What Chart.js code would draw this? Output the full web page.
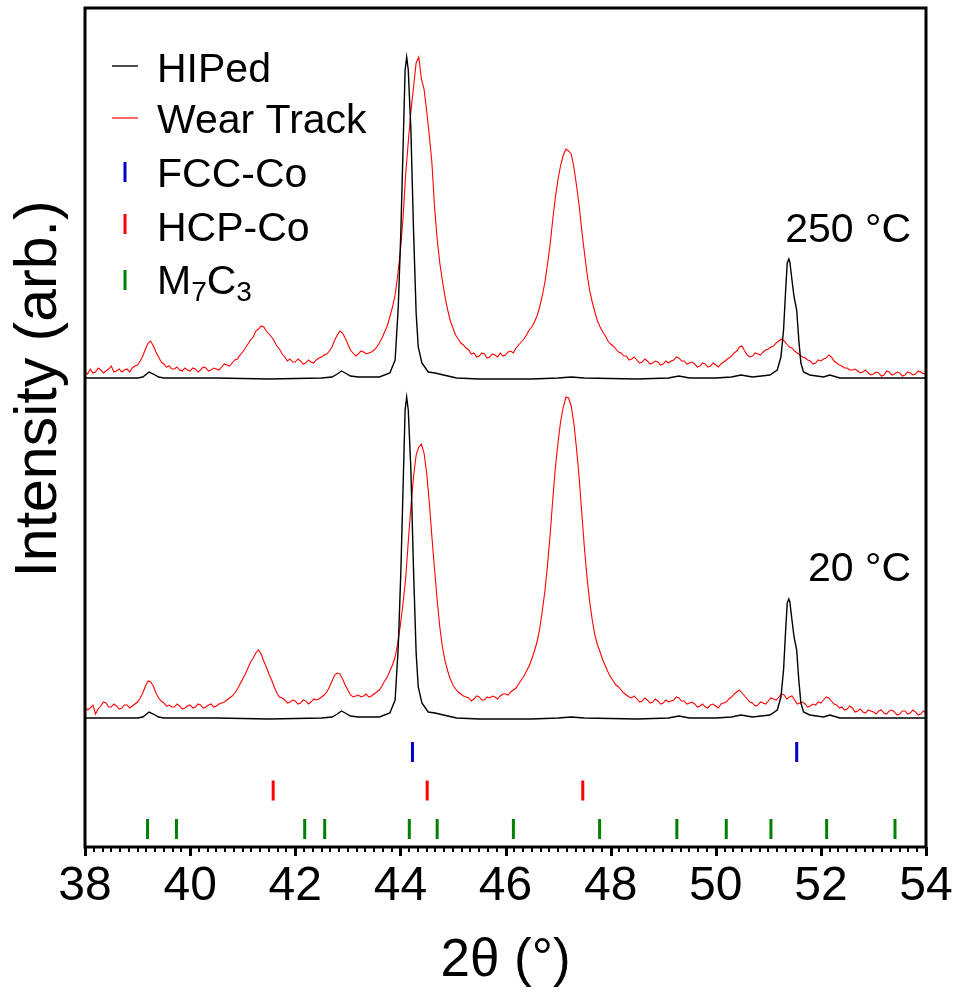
<!DOCTYPE html>
<html><head><meta charset="utf-8">
<script src="https://cdn.jsdelivr.net/npm/chart.js@4.4.0/dist/chart.umd.min.js"></script>
<style>html,body{margin:0;padding:0;background:#fff;}</style>
</head><body>
<canvas id="c" width="958" height="994"></canvas>
<script>
// ---------------- DATA ----------------
const xTickLabels = [38, 40, 42, 44, 46, 48, 50, 52, 54];

// 2θ sampling of the wear-track scans
const wearX = [
38.00,38.05,38.10,38.15,38.20,38.25,38.30,38.35,38.40,38.45,38.50,38.55,38.60,38.65,38.70,38.75,38.80,38.85,38.90,38.95,
39.00,39.05,39.10,39.15,39.20,39.25,39.30,39.35,39.40,39.45,39.50,39.55,39.60,39.65,39.70,39.75,39.80,39.85,39.90,39.95,
40.00,40.05,40.10,40.15,40.20,40.25,40.30,40.35,40.40,40.45,40.50,40.55,40.60,40.65,40.70,40.75,40.80,40.85,40.90,40.95,
41.00,41.05,41.10,41.15,41.20,41.25,41.30,41.35,41.40,41.45,41.50,41.55,41.60,41.65,41.70,41.75,41.80,41.85,41.90,41.95,
42.00,42.05,42.10,42.15,42.20,42.25,42.30,42.35,42.40,42.45,42.50,42.55,42.60,42.65,42.70,42.75,42.80,42.85,42.90,42.95,
43.00,43.05,43.10,43.15,43.20,43.25,43.30,43.35,43.40,43.45,43.50,43.55,43.60,43.65,43.70,43.75,43.80,43.85,43.90,43.95,
44.00,44.05,44.10,44.15,44.20,44.25,44.30,44.35,44.40,44.45,44.50,44.55,44.60,44.65,44.70,44.75,44.80,44.85,44.90,44.95,
45.00,45.05,45.10,45.15,45.20,45.25,45.30,45.35,45.40,45.45,45.50,45.55,45.60,45.65,45.70,45.75,45.80,45.85,45.90,45.95,
46.00,46.05,46.10,46.15,46.20,46.25,46.30,46.35,46.40,46.45,46.50,46.55,46.60,46.65,46.70,46.75,46.80,46.85,46.90,46.95,
47.00,47.05,47.10,47.15,47.20,47.25,47.30,47.35,47.40,47.45,47.50,47.55,47.60,47.65,47.70,47.75,47.80,47.85,47.90,47.95,
48.00,48.05,48.10,48.15,48.20,48.25,48.30,48.35,48.40,48.45,48.50,48.55,48.60,48.65,48.70,48.75,48.80,48.85,48.90,48.95,
49.00,49.05,49.10,49.15,49.20,49.25,49.30,49.35,49.40,49.45,49.50,49.55,49.60,49.65,49.70,49.75,49.80,49.85,49.90,49.95,
50.00,50.05,50.10,50.15,50.20,50.25,50.30,50.35,50.40,50.45,50.50,50.55,50.60,50.65,50.70,50.75,50.80,50.85,50.90,50.95,
51.00,51.05,51.10,51.15,51.20,51.25,51.30,51.35,51.40,51.45,51.50,51.55,51.60,51.65,51.70,51.75,51.80,51.85,51.90,51.95,
52.00,52.05,52.10,52.15,52.20,52.25,52.30,52.35,52.40,52.45,52.50,52.55,52.60,52.65,52.70,52.75,52.80,52.85,52.90,52.95,
53.00,53.05,53.10,53.15,53.20,53.25,53.30,53.35,53.40,53.45,53.50,53.55,53.60,53.65,53.70,53.75,53.80,53.85,53.90,53.95,
54.00];

// Wear track, 250 °C (stacked, arbitrary units)
const wear250 = [
476,473,478,474,475,479,477,474,476,478,481,475,476,478,475,477,478,475,479,481,
482,486,491,498,504,506,501,495,490,485,483,480,481,478,478,480,477,476,479,477,
476,479,478,475,477,480,479,476,477,479,478,477,480,483,482,481,484,487,488,492,
495,499,503,507,510,516,518,521,520,516,513,510,506,501,498,493,490,486,488,485,
485,488,486,483,484,487,485,484,487,489,490,492,493,496,500,507,512,516,514,509,
503,497,494,491,493,496,495,493,494,495,497,500,504,509,515,521,530,540,552,572,
596,628,672,705,735,760,784,790,768,758,736,712,684,640,608,584,566,550,537,526,
519,512,508,504,502,499,497,493,494,490,491,494,493,489,490,493,492,490,494,491,
492,495,496,494,499,502,505,508,512,517,520,525,531,540,551,565,583,603,628,650,
668,682,692,698,696,693,680,662,642,617,595,574,557,545,535,526,520,515,511,506,
503,501,498,495,494,491,491,487,488,490,487,484,485,488,486,483,484,486,485,482,
483,486,484,486,487,490,489,486,486,483,484,485,483,480,481,484,483,480,481,484,
482,480,483,485,487,489,491,494,496,500,501,496,492,490,491,494,493,492,495,497,
498,500,501,504,506,508,506,503,500,499,496,494,492,490,489,487,486,483,484,487,
486,488,489,492,490,486,484,482,481,479,479,477,477,478,476,474,475,477,474,472,
473,475,474,471,472,476,475,472,473,475,474,471,472,475,474,472,473,476,475,473,
474];

// Wear track, 20 °C
const wear20 = [
140,137,139,142,133,138,141,145,144,140,140,143,141,138,139,142,142,139,141,143,
145,149,154,161,166,165,161,154,149,146,144,141,142,140,140,143,141,138,139,141,
142,139,140,143,142,139,140,142,143,140,141,143,144,145,147,149,151,154,158,163,
168,173,179,185,189,194,197,193,186,180,173,167,160,154,150,149,147,144,145,147,
146,143,144,147,146,143,145,148,147,148,150,152,155,160,166,172,174,173,168,162,
157,152,150,151,152,150,151,153,150,151,153,155,157,161,166,170,176,182,190,204,
222,243,268,305,340,370,392,400,403,394,374,345,310,278,247,220,200,186,176,168,
162,158,155,153,151,150,149,146,148,151,150,147,147,150,149,151,150,148,151,153,
153,152,155,157,159,163,167,171,176,181,188,196,205,218,236,256,282,313,348,380,
405,426,440,450,449,441,424,399,370,335,300,270,246,227,212,202,195,187,181,175,
170,166,162,160,157,154,152,150,149,151,148,145,146,149,147,144,145,148,146,143,
144,147,145,146,147,150,149,146,146,143,144,145,143,140,141,143,140,139,142,143,
141,139,143,144,145,148,150,153,155,157,154,151,148,145,144,141,142,145,144,143,
146,149,148,147,150,153,152,148,150,151,147,143,144,145,143,140,141,143,142,145,
144,147,150,149,146,143,142,139,140,137,138,141,139,135,136,138,135,134,137,136,
135,133,136,137,134,133,136,137,135,132,133,136,136,133,134,137,135,132,133,136,
134];

// HIPed reference scan (same pattern in both panels), relative to its baseline
const hipedX = [38.0,39.0,39.1,39.22,39.3,39.4,39.5,40.5,41.5,42.5,42.7,42.8,42.88,42.95,43.05,43.2,43.6,43.8,43.9,43.96,
44.01,44.06,44.09,44.12,44.15,44.2,44.25,44.3,44.34,44.41,44.53,44.66,44.82,45.07,45.5,46.5,47.0,47.25,47.5,48.5,
49.1,49.3,49.5,50.0,50.3,50.48,50.7,51.03,51.17,51.24,51.29,51.33,51.36,51.39,51.41,51.45,51.49,51.54,51.58,51.62,
51.67,51.79,52.05,52.17,52.36,53.0,54.0];
const hipedY = [0,0,1,6,4,1,0,0,-1,0,1,4,7,5,2,1,1,5,18,71,
148,248,308,321,308,248,148,65,31,15,6,5,3,0,-1,-1,0,1,0,-1,
0,2,0,0,1,3,1,3,8,21,48,88,115,119,116,98,81,68,38,15,
6,3,1,3,0,0,0];
const hipedOffset250 = 469;
const hipedOffset20 = 129;

// Reference peak positions (2θ)
const fccCo = [44.23, 51.54];
const hcpCo = [41.58, 44.51, 47.47];
const m7c3 = [39.19, 39.74, 42.18, 42.56, 44.17, 44.70, 46.15, 47.79, 49.26, 50.20, 51.05, 52.11, 53.41];

const seriesLabels = ['HIPed', 'Wear Track', 'FCC-Co', 'HCP-Co', 'M7C3'];
const panelLabels = ['250 °C', '20 °C'];

// --------------- BUILD ---------------
const FONT = '"Liberation Sans", Arial, Helvetica, sans-serif';
const pts = (xs, ys, off) => xs.map((x, i) => ({x: x, y: ys[i] + (off || 0)}));
const ticksRow = (xs, level) => xs.map(x => ({x: x, y: level}));

const lineDs = (label, data, color, w) => ({
  label, data, showLine: true, borderColor: color, backgroundColor: color,
  borderWidth: w, pointRadius: 0, pointHoverRadius: 0, tension: 0, fill: false
});
const tickDs = (label, data, color) => ({
  label, data, showLine: false, pointStyle: 'line', pointRotation: 90,
  pointRadius: 10, pointHoverRadius: 10, pointBorderWidth: 3, pointBorderColor: color,
  borderColor: color, backgroundColor: color
});

const datasets = [
  lineDs(seriesLabels[0], pts(hipedX, hipedY, hipedOffset250), '#000000', 1.4),
  lineDs(seriesLabels[0], pts(hipedX, hipedY, hipedOffset20), '#000000', 1.4),
  lineDs(seriesLabels[1], pts(wearX, wear250), '#ff0000', 1.1),
  lineDs(seriesLabels[1], pts(wearX, wear20), '#ff0000', 1.1),
  tickDs(seriesLabels[2], ticksRow(fccCo, 95), '#0000c8'),
  tickDs(seriesLabels[3], ticksRow(hcpCo, 56.5), '#ff0000'),
  tickDs(seriesLabels[4], ticksRow(m7c3, 18), '#008000')
];

const decor = {
  id: 'decor',
  afterDraw(chart) {
    const {ctx, chartArea: a, scales: {x}} = chart;
    ctx.save();
    // minor & major ticks (outward)
    ctx.strokeStyle = '#000';
    ctx.lineWidth = 2;
    ctx.beginPath();
    const minorStep = 1 / 6;
    for (let k = 0; k * minorStep <= 16 + 1e-9; k++) {
      const v = 38 + k * minorStep;
      const px = Math.round(x.getPixelForValue(v));
      ctx.moveTo(px, a.bottom); ctx.lineTo(px, a.bottom + 5);
    }
    ctx.stroke();
    ctx.lineWidth = 3;
    ctx.beginPath();
    xTickLabels.forEach(v => {
      const px = Math.round(x.getPixelForValue(v)) + 0.5;
      ctx.moveTo(px, a.bottom); ctx.lineTo(px, a.bottom + 9);
    });
    ctx.stroke();
    // frame
    ctx.lineWidth = 3;
    ctx.strokeRect(a.left, a.top, a.right - a.left, a.bottom - a.top);

    // legend
    ctx.fillStyle = '#000';
    ctx.textAlign = 'left';
    ctx.textBaseline = 'alphabetic';
    const LF = '41px ' + FONT;
    ctx.font = LF;
    const lx = 157;
    ctx.strokeStyle = '#000'; ctx.lineWidth = 1.4;
    ctx.beginPath(); ctx.moveTo(112, 66); ctx.lineTo(138, 66); ctx.stroke();
    ctx.fillText(seriesLabels[0], lx, 82);
    ctx.strokeStyle = '#ff0000'; ctx.lineWidth = 1.2;
    ctx.beginPath(); ctx.moveTo(112, 118); ctx.lineTo(138, 118); ctx.stroke();
    ctx.fillText(seriesLabels[1], lx, 133);
    const mark = (cy, color) => {
      ctx.strokeStyle = color; ctx.lineWidth = 3;
      ctx.beginPath(); ctx.moveTo(125, cy - 10); ctx.lineTo(125, cy + 10); ctx.stroke();
    };
    mark(172, '#0000c8'); ctx.fillText(seriesLabels[2], lx, 187);
    mark(224, '#ff0000'); ctx.fillText(seriesLabels[3], lx, 241);
    mark(280, '#008000');
    let cx = lx;
    ctx.font = LF; ctx.fillText('M', cx, 294); cx += ctx.measureText('M').width;
    ctx.font = '28px ' + FONT; ctx.fillText('7', cx, 301); cx += ctx.measureText('7').width;
    ctx.font = LF; ctx.fillText('C', cx, 294); cx += ctx.measureText('C').width;
    ctx.font = '28px ' + FONT; ctx.fillText('3', cx, 301);

    // panel labels
    ctx.font = LF;
    ctx.textAlign = 'right';
    ctx.fillText(panelLabels[0], 911, 242);
    ctx.fillText(panelLabels[1], 911, 581);

    // y title
    ctx.save();
    ctx.translate(56, 389);
    ctx.rotate(-Math.PI / 2);
    ctx.textAlign = 'center';
    ctx.textBaseline = 'alphabetic';
    ctx.font = '59px ' + FONT;
    ctx.fillText('Intensity (arb.)', 0, 0);
    ctx.restore();
    ctx.restore();
  }
};

new Chart(document.getElementById('c'), {
  type: 'scatter',
  data: { datasets },
  options: {
    responsive: false,
    animation: false,
    devicePixelRatio: 1,
    layout: { autoPadding: false, padding: { left: 85, right: 32, top: 8, bottom: 0 } },
    plugins: { legend: { display: false }, tooltip: { enabled: false } },
    events: [],
    scales: {
      x: {
        type: 'linear', min: 38, max: 54,
        afterBuildTicks: s => { s.ticks = xTickLabels.map(v => ({value: v})); },
        afterFit: s => { s.height = 147; s.paddingLeft = 0; s.paddingRight = 0; s.paddingTop = 0; s.paddingBottom = 0; },
        ticks: { color: '#000', font: { family: FONT, size: 48 }, padding: 11, maxRotation: 0, autoSkip: false },
        grid: { display: false, drawTicks: false },
        border: { display: false },
        title: { display: true, text: '2θ (°)', color: '#000', font: { family: FONT, size: 53 }, padding: { top: 0, bottom: 1 } }
      },
      y: { display: false, min: 0, max: 839 }
    }
  },
  plugins: [decor]
});
</script>
</body></html>
